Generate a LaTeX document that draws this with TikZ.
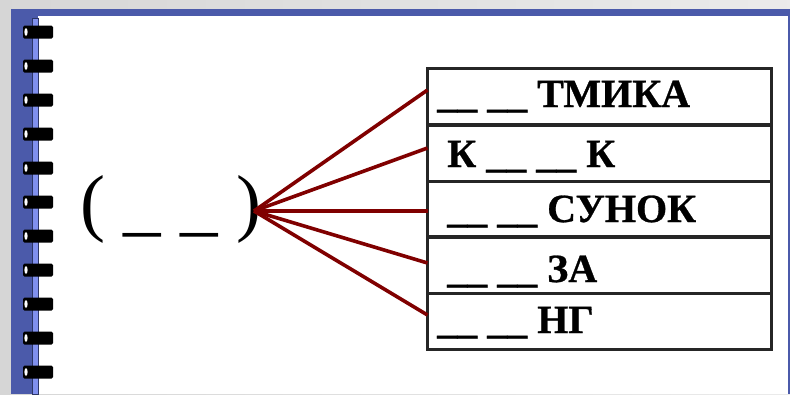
\documentclass[tikz,border=0pt]{standalone}
\usepackage{fontspec}
\setmainfont{Liberation Serif}[BoldFeatures={FakeBold=0.7}]
\begin{document}
\begin{tikzpicture}[x=1pt,y=-1pt,
  rowbox/.style={draw=black!85,line width=2.8pt,minimum width=344pt,minimum height=56.5pt,inner sep=0pt,outer sep=0pt},
  rowtext/.style={anchor=base west,inner sep=0pt,font=\fontsize{40}{40}\selectfont\bfseries},
  link/.style={draw=red!50!black,line width=3.6pt},
  ring/.style={fill=black,rounded corners=1.5pt}]
\definecolor{frameblue}{HTML}{4B5AAA}
\definecolor{stripblue}{HTML}{8090EE}
\useasboundingbox (0,0) rectangle (790,394);
% background
\shade[left color=black!16,right color=black!8] (0,0) rectangle (790,394);
% frame
\fill[frameblue] (11,9) rectangle (790,394);
\fill[white] (38,16) rectangle (788,394);
\filldraw[fill=stripblue,draw=frameblue!60!black,line width=0.6pt] (32,18) rectangle (38,394);
% spiral rings
\foreach \yy in {32,66,100,134,168,202,236,270,304,338,372}{
  \fill[ring] (23,\yy-6.5) rectangle (53,\yy+6.5);
  \fill[white] (26,\yy) ellipse (1.6pt and 4pt);
}
% left word
\node[anchor=base west,inner sep=0pt,font=\fontsize{75}{75}\selectfont] (word) at (80,227) {( \_ \_ )};
\coordinate (hub) at (254,211);
% rows
\node[rowbox] (r1) at (599.5,96.5) {};
\node[rowbox] (r2) at (599.5,153.5) {};
\node[rowbox] (r3) at (599.5,209.5) {};
\node[rowbox] (r4) at (599.5,265) {};
\node[rowbox] (r5) at (599.5,321.5) {};
\node[rowtext] (t1) at (437,107) {\_\_ \_\_ ТМИКА};
\node[rowtext] (t2) at (447,167) {К \_\_ \_\_ К};
\node[rowtext] (t3) at (447,222) {\_\_ \_\_ СУНОК};
\node[rowtext] (t4) at (447,282) {\_\_ \_\_ ЗА};
\node[rowtext] (t5) at (437,333) {\_\_ \_\_ НГ};
% connectors
\draw[link] (hub) -- ([yshift=6.5pt]r1.west);
\draw[link] (hub) -- ([yshift=5.5pt]r2.west);
\draw[link] (hub) -- ([yshift=-1.5pt]r3.west);
\draw[link] (hub) -- ([yshift=2pt]r4.west);
\draw[link] (hub) -- ([yshift=6.5pt]r5.west);
\end{tikzpicture}
\end{document}
